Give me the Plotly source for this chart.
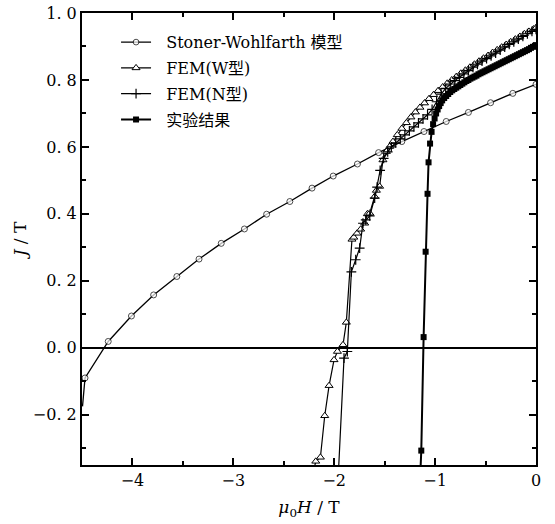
import plotly.graph_objects as go

# ---- Stoner-Wohlfarth model ----
sw_h = [-4.495, -4.47, -4.24, -4.01, -3.79, -3.56, -3.34, -3.12, -2.89, -2.67, -2.44,
        -2.22, -2.01, -1.77, -1.56, -1.33, -1.11, -0.89, -0.67, -0.45, -0.23, 0.0]
sw_j = [-0.175, -0.09, 0.019, 0.095, 0.158, 0.213, 0.265, 0.312, 0.355, 0.399, 0.437,
        0.477, 0.513, 0.549, 0.583, 0.616, 0.646, 0.676, 0.703, 0.732, 0.760, 0.787]

# ---- FEM, W type ----
w_h = [-2.205, -2.183, -2.137, -2.094, -2.051, -2.002, -1.968, -1.913, -1.880, -1.824,
       -1.806, -1.774, -1.738, -1.698, -1.671, -1.648, -1.599, -1.582, -1.550, -1.517,
       -1.483, -1.450, -1.418, -1.375, -1.330, -1.285, -1.240, -1.195, -1.150, -1.105,
       -1.060, -1.015, -0.970, -0.925, -0.880, -0.835, -0.790, -0.745, -0.700, -0.655,
       -0.610, -0.565, -0.520, -0.475, -0.430, -0.385, -0.340, -0.295, -0.250, -0.205,
       -0.160, -0.115, -0.070, -0.025, 0.0]
w_j = [-0.370, -0.339, -0.327, -0.203, -0.113, -0.036, -0.011, 0.009, 0.076, 0.324,
       0.330, 0.342, 0.354, 0.372, 0.400, 0.402, 0.452, 0.470, 0.482, 0.561,
       0.586, 0.601, 0.616, 0.636, 0.655, 0.672, 0.689, 0.704, 0.718, 0.731,
       0.744, 0.756, 0.768, 0.779, 0.790, 0.800, 0.810, 0.820, 0.829, 0.838,
       0.847, 0.856, 0.865, 0.873, 0.882, 0.890, 0.898, 0.906, 0.914, 0.922,
       0.930, 0.938, 0.945, 0.952, 0.956]

# ---- FEM, N type ----
n_h = [-1.958, -1.903, -1.870, -1.830, -1.787, -1.748, -1.715, -1.688, -1.648, -1.599,
       -1.575, -1.545, -1.510, -1.470, -1.434, -1.390, -1.345, -1.300, -1.255, -1.210,
       -1.165, -1.120, -1.075, -1.030, -0.985, -0.940, -0.895, -0.850, -0.805, -0.760,
       -0.715, -0.670, -0.625, -0.580, -0.535, -0.490, -0.445, -0.400, -0.355, -0.310,
       -0.265, -0.220, -0.175, -0.130, -0.085, -0.040, 0.0]
n_j = [-0.370, -0.031, -0.011, 0.227, 0.263, 0.298, 0.372, 0.382, 0.394, 0.447,
       0.480, 0.530, 0.566, 0.585, 0.600, 0.612, 0.624, 0.636, 0.648, 0.660,
       0.672, 0.684, 0.696, 0.712, 0.735, 0.758, 0.775, 0.788, 0.798, 0.808,
       0.818, 0.828, 0.838, 0.847, 0.856, 0.864, 0.872, 0.880, 0.889, 0.898,
       0.906, 0.914, 0.922, 0.930, 0.938, 0.945, 0.951]

# ---- measured curve ----
exp_h = [-1.150, -1.137, -1.114, -1.094, -1.075, -1.065, -1.050, -1.035, -1.020, -1.005,
         -0.990, -0.975, -0.960, -0.945, -0.930, -0.910, -0.890, -0.870, -0.850, -0.830,
         -0.810, -0.790, -0.770, -0.750, -0.730, -0.710, -0.690, -0.670, -0.650, -0.630,
         -0.610, -0.590, -0.570, -0.550, -0.530, -0.510, -0.490, -0.470, -0.450, -0.430,
         -0.410, -0.390, -0.370, -0.350, -0.330, -0.310, -0.290, -0.270, -0.250, -0.230,
         -0.210, -0.190, -0.170, -0.150, -0.130, -0.110, -0.090, -0.070, -0.050, -0.030,
         -0.010, 0.0]
exp_j = [-0.400, -0.307, 0.032, 0.287, 0.460, 0.554, 0.610, 0.645, 0.668, 0.685,
         0.700, 0.712, 0.722, 0.731, 0.739, 0.746, 0.752, 0.758, 0.764, 0.769,
         0.773, 0.777, 0.781, 0.785, 0.789, 0.793, 0.797, 0.800, 0.804, 0.807,
         0.810, 0.813, 0.817, 0.820, 0.823, 0.826, 0.829, 0.832, 0.835, 0.838,
         0.841, 0.844, 0.847, 0.850, 0.853, 0.856, 0.859, 0.862, 0.865, 0.868,
         0.871, 0.874, 0.877, 0.880, 0.883, 0.886, 0.889, 0.892, 0.896, 0.899,
         0.902, 0.904]

PAD = "\u00a0\u00a0"
names = [PAD + "Stoner-Wohlfarth 模型", PAD + "FEM(W型)", PAD + "FEM(N型)", PAD + "实验结果"]

x_ticks = [-4, -3, -2, -1, 0]
x_ticktext = ["\u22124", "\u22123", "\u22122", "\u22121", "0"]
y_ticks = [-0.2, 0.0, 0.2, 0.4, 0.6, 0.8, 1.0]
y_ticktext = ["\u22120.\u00a02", "0.\u00a00", "0.\u00a02", "0.\u00a04", "0.\u00a06", "0.\u00a08", "1.\u00a00"]

FONT = "DejaVu Serif, Noto Sans CJK SC, serif"
INK = "black"

fig = go.Figure()

sw_sizes = [0] + [6] * (len(sw_h) - 1)
fig.add_trace(go.Scatter(
    x=sw_h, y=sw_j, name=names[0], legendgroup="sw", mode="lines+markers",
    line=dict(color=INK, width=1.3),
    marker=dict(symbol="circle", size=sw_sizes, color="white",
                line=dict(color=INK, width=1)),
))
fig.add_trace(go.Scatter(
    x=w_h, y=w_j, name=names[1], legendgroup="w", mode="lines+markers",
    line=dict(color=INK, width=1.2),
    marker=dict(symbol="triangle-up", size=7, color="white",
                line=dict(color=INK, width=1)),
))
fig.add_trace(go.Scatter(
    x=n_h, y=n_j, name=names[2], legendgroup="n", mode="lines+markers",
    line=dict(color=INK, width=1.2),
    marker=dict(symbol="cross-thin", size=7, color=INK,
                line=dict(color=INK, width=1.2)),
))
fig.add_trace(go.Scatter(
    x=exp_h, y=exp_j, name=names[3], legendgroup="exp", mode="lines+markers",
    line=dict(color=INK, width=2),
    marker=dict(symbol="square", size=6, color=INK),
))

axis_common = dict(
    showgrid=False, showline=True, linecolor=INK, linewidth=2, mirror="allticks",
    ticks="inside", ticklen=7, tickwidth=2, tickcolor=INK, automargin=False,
    tickfont=dict(family=FONT, size=16, color=INK),
)

fig.update_xaxes(
    range=[-4.5, 0], tickvals=x_ticks, ticktext=x_ticktext,
    minor=dict(dtick=0.5, ticks="inside", ticklen=4, tickwidth=2, tickcolor=INK),
    zeroline=False,
    title=dict(text="<i>\u03bc</i><sub>0</sub><i>H</i> / T",
               font=dict(family=FONT, size=17, color=INK), standoff=12),
    **axis_common,
)
fig.update_yaxes(
    range=[-0.35, 1.0], tickvals=y_ticks, ticktext=y_ticktext,
    minor=dict(dtick=0.1, tick0=0, ticks="inside", ticklen=4, tickwidth=2, tickcolor=INK),
    zeroline=True, zerolinecolor=INK, zerolinewidth=2,
    title=dict(text="<i>J</i> / T", font=dict(family=FONT, size=17, color=INK), standoff=2),
    **axis_common,
)

fig.update_layout(
    width=555, height=524,
    margin=dict(l=82, r=19, t=13, b=59),
    paper_bgcolor="white", plot_bgcolor="white",
    font=dict(family=FONT, size=16, color=INK),
    legend=dict(x=0.075, y=0.973, xanchor="left", yanchor="top",
                bgcolor="rgba(0,0,0,0)", borderwidth=0,
                font=dict(family=FONT, size=16, color=INK),
                tracegroupgap=2),
    showlegend=True,
)

fig.write_html("out.html")
